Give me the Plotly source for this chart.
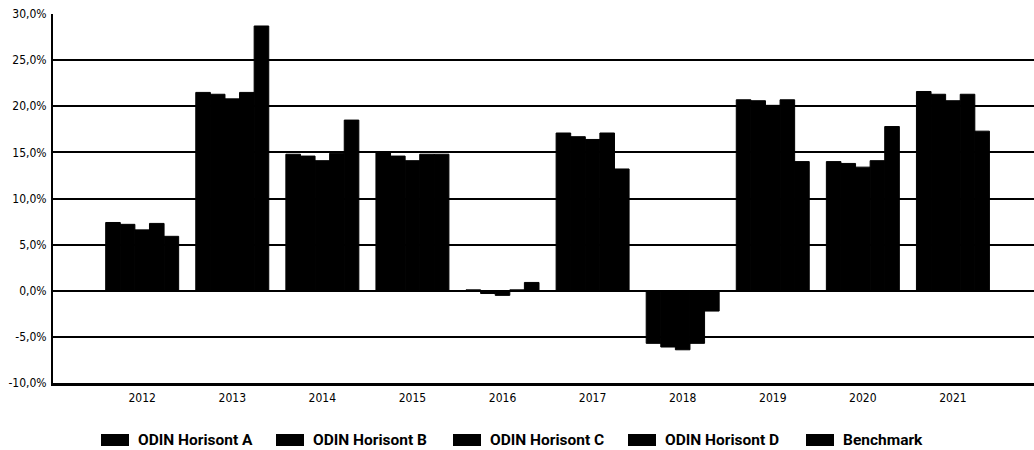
import plotly.graph_objects as go

# Annual returns (%) per fund and the benchmark
years = ["2012", "2013", "2014", "2015", "2016", "2017", "2018", "2019", "2020", "2021"]
horisont_a = [7.4, 21.5, 14.8, 15.0, 0.1, 17.1, -5.7, 20.7, 14.0, 21.6]
horisont_b = [7.2, 21.3, 14.6, 14.6, -0.3, 16.7, -6.1, 20.6, 13.8, 21.3]
horisont_c = [6.6, 20.8, 14.1, 14.1, -0.5, 16.4, -6.4, 20.1, 13.4, 20.6]
horisont_d = [7.3, 21.5, 14.9, 14.8, 0.1, 17.1, -5.7, 20.7, 14.1, 21.3]
benchmark = [5.9, 28.7, 18.5, 14.8, 0.9, 13.2, -2.2, 14.0, 17.8, 17.3]

series_names = ["ODIN Horisont A", "ODIN Horisont B", "ODIN Horisont C",
                "ODIN Horisont D", "Benchmark"]
series_values = [horisont_a, horisont_b, horisont_c, horisont_d, benchmark]

y_ticks = [-10, -5, 0, 5, 10, 15, 20, 25, 30]
y_tick_labels = ["-10,0%", "-5,0%", "0,0%", "5,0%", "10,0%", "15,0%", "20,0%", "25,0%", "30,0%"]

W, H = 1034, 450
ML, MR, MT, MB = 53, 0, 14, 67
PW = W - ML - MR
PH = H - MT - MB

AXIS_FONT = "Liberation Sans Narrow, DejaVu Sans Condensed, Arial Narrow, Roboto, sans-serif"
LEGEND_FONT = "Roboto, Liberation Sans, sans-serif"

fig = go.Figure()
for name, vals in zip(series_names, series_values):
    fig.add_trace(go.Bar(
        x=years, y=vals, name=name,
        marker=dict(color="#000000", line=dict(width=1, color="#000000")),
        showlegend=False,
        hovertemplate="%{x}: %{y:.1f}%<extra>" + name + "</extra>",
    ))

# Legend drawn as swatches and labels below the plot
legend_swatch_x = [101, 276, 453, 628, 806]
swatch_w, swatch_top, swatch_bot = 28, 434, 446
shapes = []
annotations = []
for name, sx in zip(series_names, legend_swatch_x):
    x0 = (sx - ML) / PW
    x1 = (sx + swatch_w - ML) / PW
    y0 = (H - MB - swatch_bot) / PH
    y1 = (H - MB - swatch_top) / PH
    shapes.append(dict(type="rect", xref="paper", yref="paper",
                       x0=x0, x1=x1, y0=y0, y1=y1,
                       fillcolor="#000000", line=dict(width=0)))
    annotations.append(dict(
        xref="paper", yref="paper",
        x=(sx + swatch_w + 7 - ML) / PW, y=(H - MB - 440) / PH,
        xanchor="left", yanchor="middle", showarrow=False,
        text="<b>" + name + "</b>",
        font=dict(family=LEGEND_FONT, size=15.5, color="#000000"),
    ))

fig.update_layout(
    width=W, height=H,
    margin=dict(l=ML, r=MR, t=MT, b=MB, pad=0),
    paper_bgcolor="#ffffff", plot_bgcolor="#ffffff",
    barmode="group", bargap=0.19, bargroupgap=0,
    shapes=shapes, annotations=annotations,
    showlegend=False,
    xaxis=dict(
        type="category", range=[-0.99, 9.9],
        showgrid=False, showline=True, linecolor="#000000", linewidth=3,
        ticks="", tickfont=dict(family=AXIS_FONT, size=12, color="#000000"),
        ticklabelstandoff=2, zeroline=False,
    ),
    yaxis=dict(
        range=[-10, 30], tickvals=y_ticks, ticktext=y_tick_labels,
        showgrid=True, gridcolor="#000000", gridwidth=2,
        showline=True, linecolor="#000000", linewidth=2,
        zeroline=True, zerolinecolor="#000000", zerolinewidth=2,
        ticks="", ticklabelstandoff=2,
        tickfont=dict(family=AXIS_FONT, size=12, color="#000000"),
    ),
)

fig.write_html("out.html")
